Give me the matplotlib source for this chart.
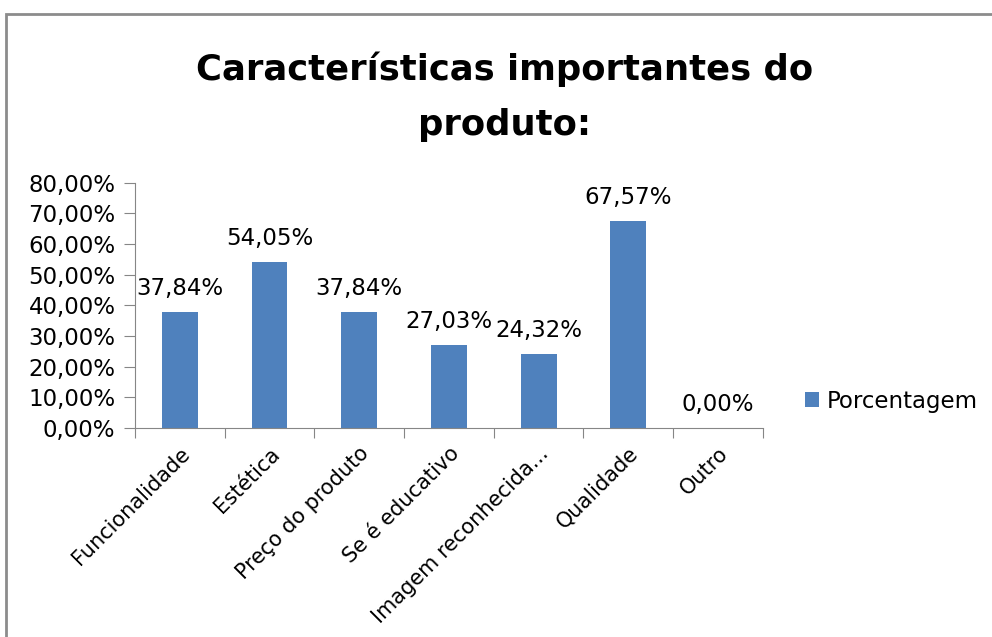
import matplotlib.pyplot as plt
from matplotlib.patches import Rectangle
from matplotlib.ticker import FuncFormatter

# dados do gráfico
categorias = ["Funcionalidade", "Estética", "Preço do produto", "Se é educativo",
              "Imagem reconhecida...", "Qualidade", "Outro"]
porcentagem = [37.84, 54.05, 37.84, 27.03, 24.32, 67.57, 0.00]
yticks = [0, 10, 20, 30, 40, 50, 60, 70, 80]

plt.rcParams['font.family'] = ['DejaVu Sans']

azul = '#4f81bd'
cinza = '#868686'
fs = 16.5

fig = plt.figure(figsize=(9.92, 6.37), dpi=100)
ax = fig.add_axes([0.136, 0.328, 0.633, 0.385])

x = list(range(len(categorias)))
barras = ax.bar(x, porcentagem, width=0.4, color=azul, label="Porcentagem")

ax.set_xlim(-0.5, len(categorias) - 0.5)
ax.set_ylim(0, 80)
ax.set_yticks(yticks)
ax.yaxis.set_major_formatter(FuncFormatter(lambda v, p: f"{v:.2f}%".replace('.', ',')))

# ticks do eixo x nos limites das categorias
ax.set_xticks([i - 0.5 for i in range(len(categorias) + 1)])
ax.set_xticklabels([])
ax.set_xticks(x, minor=True)
ax.set_xticklabels(categorias, minor=True, rotation=45, ha='right', va='top',
                   rotation_mode='anchor', fontsize=15)
ax.tick_params(axis='x', which='minor', length=0, pad=11)
ax.tick_params(axis='x', which='major', length=7, color=cinza)
ax.tick_params(axis='y', length=8, color=cinza, labelsize=fs, pad=6)

for s in ['top', 'right']:
    ax.spines[s].set_visible(False)
for s in ['left', 'bottom']:
    ax.spines[s].set_color(cinza)

# rótulos de dados
for b, v in zip(barras, porcentagem):
    ax.annotate(f"{v:.2f}%".replace('.', ','), (b.get_x() + b.get_width() / 2, v),
                xytext=(0, 12), textcoords='offset pixels', ha='center', va='bottom',
                fontsize=fs)

fig.text(0.509, 0.848, "Características importantes do\nproduto:", ha='center', va='center',
         fontsize=25.5, fontweight='bold', linespacing=1.75)

ax.legend(loc='center left', bbox_to_anchor=(1.035, 0.11), frameon=False, fontsize=fs,
          handlelength=0.6, handleheight=0.6, handletextpad=0.35)

# moldura do gráfico
fig.patches.append(Rectangle((5.5 / 992, -0.1), 1.2, 1 - 13.5 / 637 + 0.1,
                             transform=fig.transFigure, fill=False, edgecolor='#8c8c8c',
                             linewidth=2))

fig.savefig("out.png", dpi=100)
